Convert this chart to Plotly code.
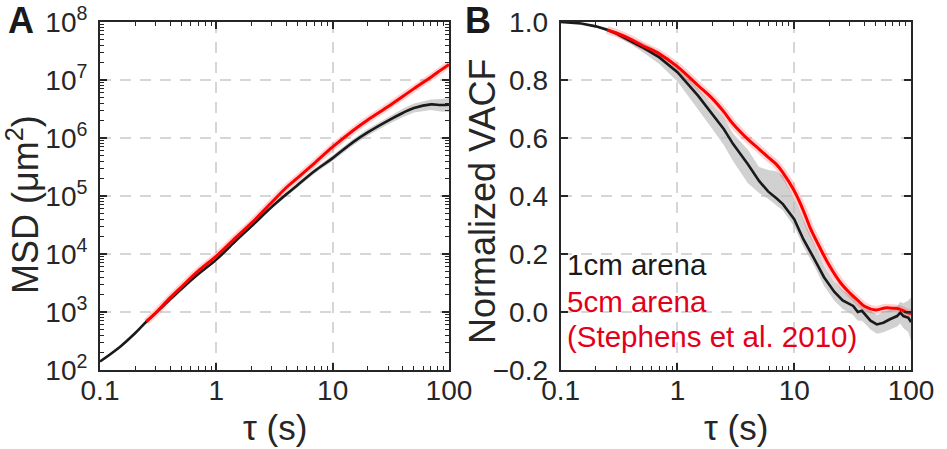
import plotly.graph_objects as go

# ---------------- Panel A: MSD ----------------
tau_a_black = [0.1, 0.15, 0.2, 0.25, 0.3, 0.4, 0.5, 0.7, 1, 1.5, 2, 3, 4, 5, 7, 10, 15, 20, 30, 40, 50, 70, 85, 100]
msd_black = [140, 255, 430, 680, 950, 1650, 2500, 4500, 8000, 17500, 30000, 65000, 107000, 155000, 270000,
             450000, 850000, 1250000, 2000000, 2700000, 3300000, 3800000, 3700000, 3750000]
msd_black_lo = [135, 245, 410, 650, 905, 1570, 2380, 4280, 7550, 16400, 28000, 60000, 98000, 141000, 244000,
                400000, 750000, 1090000, 1720000, 2280000, 2750000, 3050000, 2850000, 2800000]
msd_black_hi = [145, 265, 450, 710, 995, 1730, 2620, 4720, 8450, 18600, 32000, 70000, 116000, 170000, 298000,
                505000, 960000, 1430000, 2320000, 3200000, 3950000, 4600000, 4700000, 4900000]

tau_a_red = [0.25, 0.3, 0.4, 0.5, 0.7, 1, 1.5, 2, 3, 4, 5, 7, 10, 15, 20, 30, 40, 50, 70, 85, 100]
msd_red = [680, 960, 1750, 2700, 5100, 9200, 20000, 34000, 78000, 140000, 205000, 370000, 700000, 1350000,
           2050000, 3500000, 5200000, 7100000, 11200000, 14800000, 18600000]

# ---------------- Panel B: VACF ----------------
tau_b_black = [0.1, 0.15, 0.2, 0.25, 0.3, 0.4, 0.5, 0.7, 1, 1.5, 2, 2.5, 3, 4, 5, 6, 7, 8, 10, 12, 15, 18, 22, 26,
               32, 35, 38, 45, 51, 58, 66, 76, 81, 86, 95, 100]
vacf_black = [1.0, 0.995, 0.985, 0.973, 0.96, 0.935, 0.913, 0.878, 0.827, 0.746, 0.683, 0.63, 0.579, 0.51, 0.452,
              0.415, 0.393, 0.372, 0.32, 0.25, 0.18, 0.12, 0.07, 0.04, 0.021, 0.0, 0.004, -0.03, -0.043, -0.037,
              -0.025, -0.014, -0.002, -0.014, -0.02, -0.035]
vacf_black_lo = [1.0, 0.993, 0.981, 0.967, 0.952, 0.923, 0.897, 0.855, 0.795, 0.70, 0.63, 0.575, 0.52, 0.445, 0.41,
                 0.39, 0.37, 0.35, 0.295, 0.225, 0.155, 0.09, 0.04, 0.01, -0.01, -0.03, -0.03, -0.06, -0.075, -0.07,
                 -0.06, -0.05, -0.04, -0.055, -0.07, -0.1]
vacf_black_hi = [1.0, 0.997, 0.989, 0.979, 0.968, 0.947, 0.929, 0.898, 0.845, 0.77, 0.715, 0.67, 0.615, 0.56, 0.50,
                 0.49, 0.485, 0.47, 0.39, 0.32, 0.235, 0.16, 0.105, 0.075, 0.05, 0.03, 0.03, 0.005, -0.01, 0.0,
                 0.01, 0.02, 0.035, 0.03, 0.04, 0.05]

tau_b_red = [0.25, 0.3, 0.4, 0.5, 0.7, 1, 1.5, 2, 2.5, 3, 4, 5, 6, 7, 8, 10, 12, 13.7, 15, 20, 25, 30, 35, 40, 50,
             60, 70, 80, 90, 100]
vacf_red = [0.973, 0.962, 0.94, 0.919, 0.89, 0.846, 0.781, 0.735, 0.69, 0.648, 0.596, 0.562, 0.533, 0.51, 0.481,
            0.418, 0.349, 0.29, 0.257, 0.16, 0.1, 0.065, 0.04, 0.02, 0.007, 0.014, 0.013, 0.01, 0.0, -0.005]

# ticks
x_ticks = [0.1, 1, 10, 100]
x_ticktext = ["0.1", "1", "10", "100"]
x_minor = [0.2, 0.3, 0.4, 0.5, 0.6, 0.7, 0.8, 0.9, 2, 3, 4, 5, 6, 7, 8, 9, 20, 30, 40, 50, 60, 70, 80, 90]
ya_ticks = [1e2, 1e3, 1e4, 1e5, 1e6, 1e7, 1e8]
ya_ticktext = ["10<sup>2</sup>", "10<sup>3</sup>", "10<sup>4</sup>", "10<sup>5</sup>", "10<sup>6</sup>",
               "10<sup>7</sup>", "10<sup>8</sup>"]
ya_minor = [m * 10 ** e for e in range(2, 8) for m in range(2, 10)]
yb_ticks = [-0.2, 0.0, 0.2, 0.4, 0.6, 0.8, 1.0]
yb_ticktext = ["\u22120.2", "0.0", "0.2", "0.4", "0.6", "0.8", "1.0"]

BAND = "rgba(185,185,185,0.65)"
RED = "#FF0000"
BLACK = "#1a1a1a"
AXC = "#262626"
FONT = "Liberation Sans, Arial, sans-serif"

fig = go.Figure()

# Panel A
fig.add_trace(go.Scatter(x=tau_a_black, y=msd_black_lo, mode="lines", line=dict(width=0), hoverinfo="skip",
                         showlegend=False, xaxis="x", yaxis="y"))
fig.add_trace(go.Scatter(x=tau_a_black, y=msd_black_hi, mode="lines", line=dict(width=0), fill="tonexty",
                         fillcolor=BAND, hoverinfo="skip", showlegend=False, xaxis="x", yaxis="y"))
fig.add_trace(go.Scatter(x=tau_a_red, y=msd_red, mode="lines", line=dict(color="rgba(255,0,0,0.18)", width=7),
                         line_shape="spline", showlegend=False, xaxis="x", yaxis="y"))
fig.add_trace(go.Scatter(x=tau_a_black, y=msd_black, mode="lines", line=dict(color=BLACK, width=2.6),
                         line_shape="spline", showlegend=False, xaxis="x", yaxis="y"))
fig.add_trace(go.Scatter(x=tau_a_red, y=msd_red, mode="lines", line=dict(color=RED, width=3),
                         line_shape="spline", showlegend=False, xaxis="x", yaxis="y"))

# Panel B
fig.add_trace(go.Scatter(x=tau_b_black, y=vacf_black_lo, mode="lines", line=dict(width=0), hoverinfo="skip",
                         showlegend=False, xaxis="x2", yaxis="y2"))
fig.add_trace(go.Scatter(x=tau_b_black, y=vacf_black_hi, mode="lines", line=dict(width=0), fill="tonexty",
                         fillcolor=BAND, hoverinfo="skip", showlegend=False, xaxis="x2", yaxis="y2"))
fig.add_trace(go.Scatter(x=tau_b_red, y=vacf_red, mode="lines", line=dict(color="rgba(255,0,0,0.18)", width=8),
                         line_shape="spline", showlegend=False, xaxis="x2", yaxis="y2"))
fig.add_trace(go.Scatter(x=tau_b_black, y=vacf_black, mode="lines", line=dict(color=BLACK, width=2.6),
                         showlegend=False, xaxis="x2", yaxis="y2"))
fig.add_trace(go.Scatter(x=tau_b_red, y=vacf_red, mode="lines", line=dict(color=RED, width=3),
                         line_shape="spline", showlegend=False, xaxis="x2", yaxis="y2"))

# empty traces that bind the overlay axes carrying the small log ticks
fig.add_trace(go.Scatter(x=[], y=[], mode="lines", showlegend=False, hoverinfo="skip", xaxis="x3", yaxis="y3"))
fig.add_trace(go.Scatter(x=[], y=[], mode="lines", showlegend=False, hoverinfo="skip", xaxis="x4", yaxis="y2"))

common_axis = dict(showline=True, linecolor=AXC, linewidth=2, mirror="ticks", ticks="inside", ticklen=7,
                   tickwidth=1.5, tickcolor=AXC, tickfont=dict(size=28, color=AXC, family=FONT),
                   showgrid=True, gridcolor="#d6d6d6", gridwidth=1.5, griddash="11px,9px", zeroline=False,
                   automargin=False, ticklabeloverflow="allow")

minor_axis = dict(type="log", showline=True, linecolor=AXC, linewidth=2, mirror="ticks", ticks="inside",
                  ticklen=4, tickwidth=1.4, tickcolor=AXC, showticklabels=False, showgrid=False,
                  zeroline=False, automargin=False, tickmode="array")

xa = dict(common_axis, type="log", range=[-1, 2], tickmode="array", tickvals=x_ticks, ticktext=x_ticktext,
          ticklabelstandoff=-6)

fig.update_layout(
    width=947, height=449,
    margin=dict(l=100, r=36, t=22, b=79, autoexpand=False),
    paper_bgcolor="white", plot_bgcolor="white",
    font=dict(family=FONT, color=AXC),
    xaxis=dict(xa, domain=[0, 0.4303], anchor="y"),
    yaxis=dict(common_axis, type="log", range=[2, 8], tickmode="array", tickvals=ya_ticks,
               ticktext=ya_ticktext, ticklabelstandoff=5, anchor="x"),
    xaxis2=dict(xa, domain=[0.568, 1], anchor="y2"),
    yaxis2=dict(common_axis, range=[-0.2, 1.0], tickmode="array", tickvals=yb_ticks, ticktext=yb_ticktext,
                ticklabelstandoff=5, anchor="x2"),
    xaxis3=dict(minor_axis, range=[-1, 2], tickvals=x_minor, overlaying="x", anchor="y"),
    yaxis3=dict(minor_axis, range=[2, 8], tickvals=ya_minor, overlaying="y", anchor="x"),
    xaxis4=dict(minor_axis, range=[-1, 2], tickvals=x_minor, overlaying="x2", anchor="y2"),
    showlegend=False,
)

ann = []
ann.append(dict(text="<b>A</b>", x=-0.097, y=1.005, xref="paper", yref="paper", showarrow=False,
                font=dict(size=36, color="#1a1a1a", family=FONT), xanchor="center", yanchor="middle"))
ann.append(dict(text="<b>B</b>", x=0.466, y=1.005, xref="paper", yref="paper", showarrow=False,
                font=dict(size=36, color="#1a1a1a", family=FONT), xanchor="center", yanchor="middle"))
ann.append(dict(text="\u03c4 (s)", x=0.2152, y=-0.165, xref="paper", yref="paper", showarrow=False,
                font=dict(size=35, color=AXC, family=FONT), xanchor="center", yanchor="middle"))
ann.append(dict(text="\u03c4 (s)", x=0.784, y=-0.165, xref="paper", yref="paper", showarrow=False,
                font=dict(size=35, color=AXC, family=FONT), xanchor="center", yanchor="middle"))
ann.append(dict(text="MSD (\u03bcm<sup>2</sup>)", x=-0.0949, y=0.474, xref="paper", yref="paper",
                showarrow=False, textangle=-90, font=dict(size=36, color=AXC, family=FONT),
                xanchor="center", yanchor="middle"))
ann.append(dict(text="Normalized VACF", x=0.4723, y=0.483, xref="paper", yref="paper",
                showarrow=False, textangle=-90, font=dict(size=36, color=AXC, family=FONT),
                xanchor="center", yanchor="middle"))
ann.append(dict(text="1cm arena", x=0.5735, y=0.302, xref="paper", yref="paper", showarrow=False,
                font=dict(size=29.5, color="#1a1a1a", family=FONT), xanchor="left", yanchor="middle"))
ann.append(dict(text="5cm arena", x=0.5735, y=0.196, xref="paper", yref="paper", showarrow=False,
                font=dict(size=29.5, color="#E2001A", family=FONT), xanchor="left", yanchor="middle"))
ann.append(dict(text="(Stephens et al. 2010)", x=0.5735, y=0.0957, xref="paper", yref="paper", showarrow=False,
                font=dict(size=29.5, color="#E2001A", family=FONT), xanchor="left", yanchor="middle"))
fig.update_layout(annotations=ann)

# remove the browser's default 8px page margin so the 947x449 figure fills the window
fig.write_html("out.html", config={"displayModeBar": False},
               post_script="document.body.style.margin='0';")
